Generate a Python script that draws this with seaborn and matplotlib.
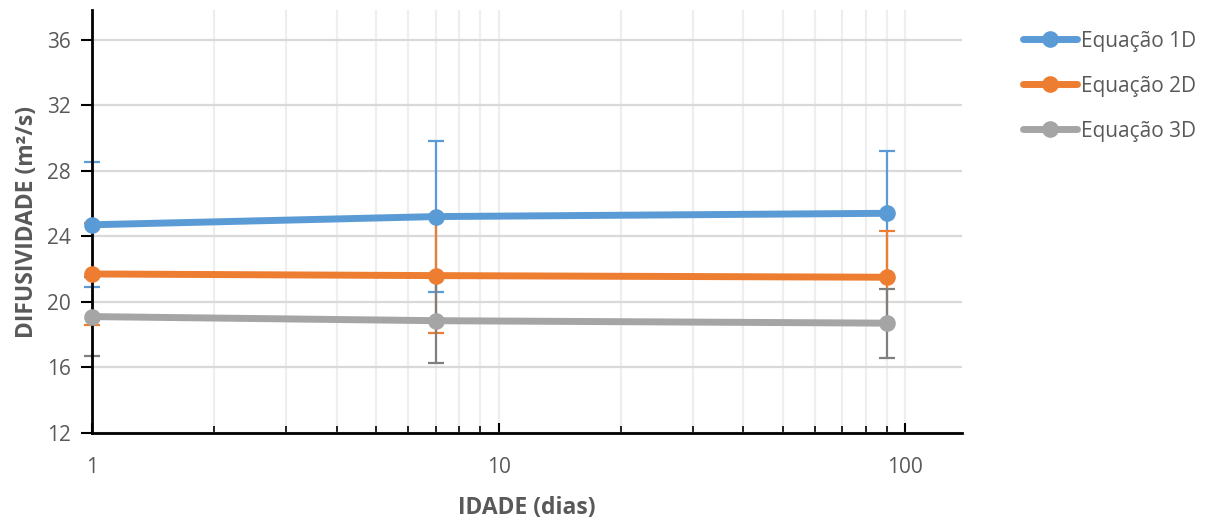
import numpy as np
import pandas as pd
import matplotlib
matplotlib.use("Agg")
import matplotlib.pyplot as plt
from matplotlib.ticker import LogLocator, NullFormatter, FixedLocator, FixedFormatter
from matplotlib.lines import Line2D
import seaborn as sns

# ---- data ----
idade = [1, 7, 90]
series_names = ["Equação 1D", "Equação 2D", "Equação 3D"]
eq1d = [24.7, 25.2, 25.4]
eq2d = [21.7, 21.6, 21.5]
eq3d = [19.1, 18.85, 18.7]
err1d = [3.8, 4.6, 3.8]
err2d = [3.1, 3.5, 2.8]
err3d = [2.4, 2.6, 2.1]
y_ticks = [12, 16, 20, 24, 28, 32, 36]
x_ticks = [1, 10, 100]
x_tick_labels = ["1", "10", "100"]

colors = ["#5B9BD5", "#ED7D31", "#A5A5A5"]
err_colors = ["#5B9BD5", "#ED7D31", "#7F7F7F"]

df = pd.DataFrame({
    "idade": idade * 3,
    "valor": eq1d + eq2d + eq3d,
    "serie": [s for s in series_names for _ in idade],
})

sns.set_style("white")
plt.rcParams["font.family"] = ["Open Sans", "DejaVu Sans"]

fig = plt.figure(figsize=(12.1, 5.21), dpi=100)
ax = fig.add_axes([92 / 1210, 1 - 433 / 521, (962 - 92) / 1210, (433 - 10) / 521])

ax.set_xscale("log")
ax.set_xlim(1, 138)
ax.set_ylim(12, 37.8)

# gridlines
ax.set_axisbelow(True)
ax.yaxis.set_major_locator(FixedLocator(y_ticks))
ax.xaxis.set_major_locator(FixedLocator(x_ticks))
ax.xaxis.set_major_formatter(FixedFormatter(x_tick_labels))
ax.xaxis.set_minor_locator(LogLocator(base=10, subs=np.arange(2, 10)))
ax.xaxis.set_minor_formatter(NullFormatter())
ax.grid(axis="y", which="major", color="#D9D9D9", lw=1.6)
ax.grid(axis="x", which="both", color="#EEEEEE", lw=1.6)

# error bars
for vals, errs, ec in zip([eq1d, eq2d, eq3d], [err1d, err2d, err3d], err_colors):
    ax.errorbar(idade, vals, yerr=errs, fmt="none", ecolor=ec, elinewidth=1.6,
                capsize=6, capthick=1.6, zorder=2)

sns.lineplot(data=df, x="idade", y="valor", hue="serie", palette=colors,
             marker="o", markersize=12, markeredgewidth=0, linewidth=5,
             ax=ax, legend=False, zorder=3)

for ln in ax.lines:
    ln.set_solid_capstyle("round")
    ln.set_clip_on(False)

# spines
for s in ["top", "right"]:
    ax.spines[s].set_visible(False)
for s in ["left", "bottom"]:
    ax.spines[s].set_color("black")
    ax.spines[s].set_linewidth(2)
    ax.spines[s].set_zorder(2.5)

ax.tick_params(axis="y", which="major", direction="out", length=8, width=1.5,
               color="black", labelsize=15, labelcolor="#595959", pad=7, left=True)
ax.tick_params(axis="x", which="major", direction="in", length=7, width=1.5,
               color="black", labelsize=15, labelcolor="#595959", pad=17, bottom=True)
ax.tick_params(axis="x", which="minor", direction="in", length=5, width=1.2,
               color="black", bottom=True)

ax.set_xlabel("IDADE (dias)", fontsize=16.5, fontweight="bold", color="#595959", labelpad=13)
ax.set_ylabel("DIFUSIVIDADE (m²/s)", fontsize=16.5, fontweight="bold", color="#595959", labelpad=6)

# legend
handles = [Line2D([0], [0], color=c, lw=5, marker="o", markersize=12,
                  markeredgewidth=0, solid_capstyle="round") for c in colors]
leg = fig.legend(handles, series_names, loc="upper left",
                 bbox_to_anchor=(1004 / 1210, 1 - 12 / 521), frameon=False,
                 fontsize=15, labelspacing=1.15, handlelength=2.6, handletextpad=0.2)
for t in leg.get_texts():
    t.set_color("#595959")

fig.savefig("out.png", dpi=100)
